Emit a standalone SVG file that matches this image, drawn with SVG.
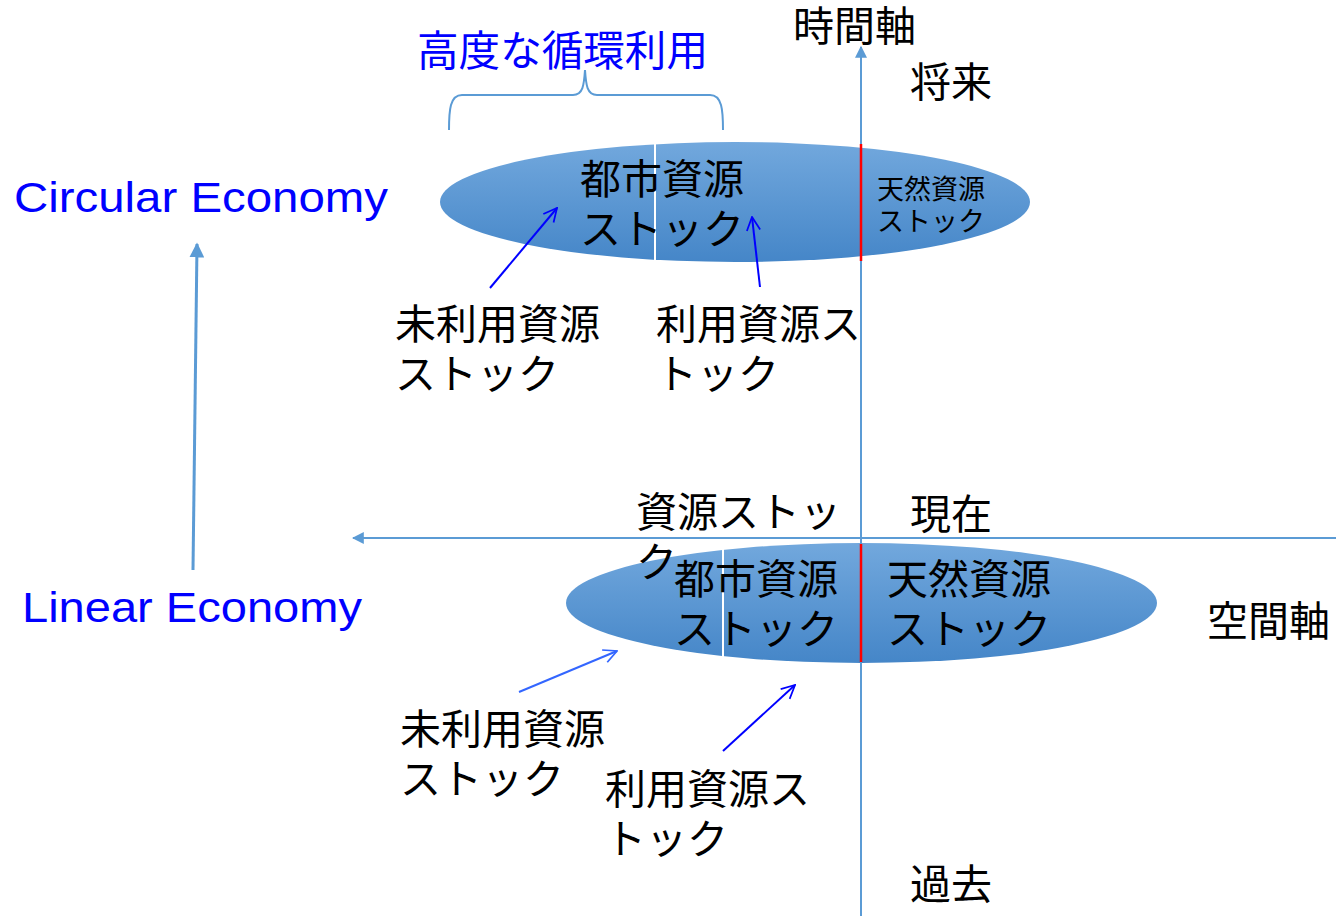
<svg xmlns="http://www.w3.org/2000/svg" width="1336" height="916" viewBox="0 0 1336 916">
<style>
.jp{font-family:"Noto Sans CJK JP","Noto Sans",sans-serif;fill:#000;font-size:41px}
.en{font-family:"Liberation Sans",Arial,sans-serif;fill:#0000FF}
.axis{stroke:#5B9BD5;stroke-width:2;fill:none}
.ptr{stroke:#0000FF;stroke-width:2;fill:none}
</style>
<defs>
<linearGradient id="g" x1="0" y1="0" x2="0" y2="1">
<stop offset="0" stop-color="#72A8DD"/>
<stop offset="1" stop-color="#4586C8"/>
</linearGradient>
<marker id="ah" viewBox="0 0 10 10" refX="9" refY="5" markerWidth="6" markerHeight="6" orient="auto" markerUnits="strokeWidth">
<path d="M0,0 L10,5 L0,10 z" fill="#5B9BD5"/>
</marker>
<marker id="ah2" viewBox="0 0 10 10" refX="9" refY="5" markerWidth="5" markerHeight="5" orient="auto" markerUnits="strokeWidth">
<path d="M0,0 L10,5 L0,10 z" fill="#5B9BD5"/>
</marker>
<marker id="oa" viewBox="0 0 12 12" refX="11" refY="6" markerWidth="8" markerHeight="8" orient="auto" markerUnits="strokeWidth">
<path d="M1,1 L11,6 L1,11" fill="none" stroke="#0000FF" stroke-width="1.3"/>
</marker>
<marker id="oa2" viewBox="0 0 12 12" refX="11" refY="6" markerWidth="8" markerHeight="8" orient="auto" markerUnits="strokeWidth">
<path d="M1,1 L11,6 L1,11" fill="none" stroke="#3366FF" stroke-width="1.3"/>
</marker>
</defs>

<g id="top-stock">
<ellipse cx="735" cy="202" rx="295" ry="60" fill="url(#g)"/>
<line x1="655" y1="144" x2="655" y2="261" stroke="#fff" stroke-width="2"/>
<text class="jp" x="580" y="194">都市資源</text>
<text class="jp" x="580" y="244">ストック</text>
<text class="jp" x="877" y="199" style="font-size:27px">天然資源</text>
<text class="jp" x="877" y="231" style="font-size:27px">ストック</text>
</g>

<g id="bottom-stock">
<ellipse cx="861.5" cy="603" rx="295.5" ry="60" fill="url(#g)"/>
<line x1="723" y1="546" x2="723" y2="657" stroke="#fff" stroke-width="2"/>
<text class="jp" x="674" y="594">都市資源</text>
<text class="jp" x="674" y="644">ストック</text>
<text class="jp" x="887" y="594">天然資源</text>
<text class="jp" x="887" y="644">ストック</text>
</g>

<g id="connectors">
<line class="axis" x1="861" y1="916" x2="861" y2="47" marker-end="url(#ah)"/>
<line class="axis" x1="1336" y1="538" x2="353" y2="538" marker-end="url(#ah)"/>
<line x1="861" y1="144" x2="861" y2="261" stroke="#FF0000" stroke-width="2.5"/>
<line x1="861" y1="544" x2="861" y2="662" stroke="#FF0000" stroke-width="2.5"/>
<line x1="193" y1="570" x2="197" y2="244" stroke="#5B9BD5" stroke-width="3" marker-end="url(#ah2)"/>
<line class="ptr" x1="490" y1="288" x2="557" y2="208" marker-end="url(#oa)"/>
<line class="ptr" x1="760" y1="287" x2="752" y2="217" marker-end="url(#oa)"/>
<line x1="519" y1="692" x2="617" y2="651" stroke="#3366FF" stroke-width="2" marker-end="url(#oa2)"/>
<line class="ptr" x1="723" y1="751" x2="795" y2="685" marker-end="url(#oa)"/>
<path d="M449,130 C449,110 450,95 462,95 L573,95 C583,95 584,85 585,70 C586,85 587,95 597,95 L710,95 C722,95 723,110 723,130" class="axis"/>
</g>

<g id="labels">
<text class="jp" x="417" y="66" style="fill:#0000FF;font-size:41.5px" textLength="291" lengthAdjust="spacingAndGlyphs">高度な循環利用</text>
<text class="jp" x="793" y="41">時間軸</text>
<text class="jp" x="910" y="97">将来</text>
<text class="jp" x="910" y="529">現在</text>
<text class="jp" x="910" y="899">過去</text>
<text class="jp" x="1207" y="636">空間軸</text>
<text class="jp" x="395" y="339">未利用資源</text>
<text class="jp" x="395" y="389">ストック</text>
<text class="jp" x="656" y="339">利用資源ス</text>
<text class="jp" x="656" y="389">トック</text>
<text class="jp" x="636" y="527">資源ストッ</text>
<text class="jp" x="636" y="577">ク</text>
<text class="jp" x="400" y="744">未利用資源</text>
<text class="jp" x="400" y="794">ストック</text>
<text class="jp" x="605" y="804">利用資源ス</text>
<text class="jp" x="605" y="854">トック</text>
<text class="en" x="14" y="212" font-size="43" textLength="374" lengthAdjust="spacingAndGlyphs">Circular Economy</text>
<text class="en" x="22" y="622" font-size="42" textLength="340" lengthAdjust="spacingAndGlyphs">Linear Economy</text>
</g>
</svg>
